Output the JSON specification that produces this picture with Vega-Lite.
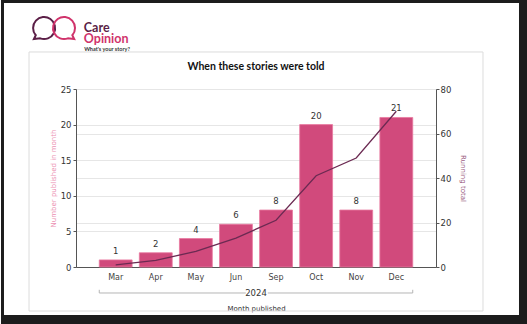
{
  "$schema": "https://vega.github.io/schema/vega-lite/v6.json",
  "background": "white",
  "autosize": "pad",
  "padding": 0,
  "width": 360,
  "height": 178,
  "datasets": {
    "months": [
      {"month": "Mar", "count": 1, "total": 1},
      {"month": "Apr", "count": 2, "total": 3},
      {"month": "May", "count": 4, "total": 7},
      {"month": "Jun", "count": 6, "total": 13},
      {"month": "Sep", "count": 8, "total": 21},
      {"month": "Oct", "count": 20, "total": 41},
      {"month": "Nov", "count": 8, "total": 49},
      {"month": "Dec", "count": 21, "total": 70}
    ],
    "group": [{"year": "2024"}]
  },
  "data": {"name": "months"},
  "encoding": {
    "x": {
      "field": "month",
      "type": "nominal",
      "sort": null,
      "scale": {"paddingInner": 0.18, "paddingOuter": 0.58},
      "axis": {
        "labelFont": "DejaVu Sans",
        "labelFontSize": 8,
        "labelColor": "#444444",
        "labelAngle": 0,
        "tickSize": 0,
        "labelPadding": 6,
        "domainColor": "#555555",
        "title": "Month published",
        "titleFont": "DejaVu Sans",
        "titleFontSize": 7,
        "titleFontWeight": "normal",
        "titleColor": "#333333",
        "titlePadding": 23
      }
    }
  },
  "layer": [
    {
      "encoding": {
        "y": {
          "field": "count",
          "type": "quantitative",
          "scale": {"domain": [0, 25]},
          "axis": {
            "values": [0, 5, 10, 15, 20, 25],
            "grid": true,
            "gridColor": "#e6e6e6",
            "domainColor": "#555555",
            "tickColor": "#555555",
            "tickSize": 3,
            "labelPadding": 2,
            "labelFont": "DejaVu Sans",
            "labelFontSize": 8.5,
            "labelColor": "#333333",
            "title": "Number published in month",
            "titleFont": "DejaVu Sans",
            "titleFontSize": 7,
            "titleFontWeight": "normal",
            "titleColor": "#ec8fb2",
            "titlePadding": 4
          }
        }
      },
      "layer": [
        {
          "mark": {"type": "bar", "color": "#d14a7c", "stroke": "#e8789f", "strokeWidth": 0.8}
        },
        {
          "mark": {"type": "text", "baseline": "bottom", "dy": -4, "font": "DejaVu Sans", "fontSize": 8.5, "color": "#333333"},
          "encoding": {
            "text": {"field": "count", "type": "quantitative"}
          }
        }
      ]
    },
    {
      "mark": {"type": "line", "color": "#6b2a52", "strokeWidth": 1.3},
      "encoding": {
        "y": {
          "field": "total",
          "type": "quantitative",
          "scale": {"domain": [0, 80]},
          "axis": {
            "orient": "right",
            "values": [0, 20, 40, 60, 80],
            "grid": true,
            "gridColor": "#e6e6e6",
            "domainColor": "#555555",
            "tickColor": "#555555",
            "tickSize": 3,
            "labelPadding": 1,
            "labelFont": "DejaVu Sans",
            "labelFontSize": 8.5,
            "labelColor": "#333333",
            "title": "Running total",
            "titleFont": "DejaVu Sans",
            "titleFontSize": 7,
            "titleFontWeight": "normal",
            "titleColor": "#9a5b80",
            "titlePadding": 9
          }
        }
      }
    },
    {
      "data": {"name": "group"},
      "layer": [
        {
          "mark": {"type": "rule", "color": "#b5b5b5", "strokeWidth": 1},
          "encoding": {
            "x": {"datum": "Mar", "bandPosition": 0},
            "x2": {"datum": "Jun", "bandPosition": 0.8},
            "y": {"datum": -3.65, "scale": {"domain": [0, 25]}, "axis": null}
          }
        },
        {
          "mark": {"type": "rule", "color": "#b5b5b5", "strokeWidth": 1},
          "encoding": {
            "x": {"datum": "Sep", "bandPosition": 0.25},
            "x2": {"datum": "Dec", "bandPosition": 1},
            "y": {"datum": -3.65, "scale": {"domain": [0, 25]}, "axis": null}
          }
        },
        {
          "mark": {"type": "rule", "color": "#b5b5b5", "strokeWidth": 1},
          "encoding": {
            "x": {"datum": "Mar", "bandPosition": 0},
            "y": {"datum": -3.65, "scale": {"domain": [0, 25]}, "axis": null},
            "y2": {"datum": -3.2}
          }
        },
        {
          "mark": {"type": "rule", "color": "#b5b5b5", "strokeWidth": 1},
          "encoding": {
            "x": {"datum": "Dec", "bandPosition": 1},
            "y": {"datum": -3.65, "scale": {"domain": [0, 25]}, "axis": null},
            "y2": {"datum": -3.2}
          }
        },
        {
          "mark": {"type": "text", "baseline": "middle", "align": "center", "font": "DejaVu Sans", "fontSize": 8.5, "color": "#333333"},
          "encoding": {
            "x": {"datum": "Jun", "bandPosition": 1.11},
            "y": {"datum": -3.7, "scale": {"domain": [0, 25]}, "axis": null},
            "text": {"field": "year", "type": "nominal"}
          }
        },
        {
          "mark": {"type": "text", "text": "When these stories were told", "baseline": "middle", "align": "center", "font": "Lato", "fontSize": 10.5, "fontWeight": "bold", "color": "#111111"},
          "encoding": {
            "x": {"datum": "Jun", "bandPosition": 1.11},
            "y": {"datum": 28.09, "scale": {"domain": [0, 25]}, "axis": null}
          }
        },
        {
          "mark": {"type": "rect", "fillOpacity": 0, "stroke": "#dcdcdc", "strokeWidth": 1},
          "encoding": {
            "x": {"datum": "Mar", "bandPosition": -2.137},
            "x2": {"datum": "Dec", "bandPosition": 3.137},
            "y": {"datum": 30.2, "scale": {"domain": [0, 25]}, "axis": null},
            "y2": {"datum": -6.18}
          }
        },
        {
          "mark": {"type": "point", "shape": "M -0.35 0.94 A 1 1 0 1 0 -0.75 0.66 L -0.92 1 Z", "filled": false, "color": "#5b1f47", "strokeWidth": 2, "size": 484, "opacity": 1},
          "encoding": {
            "x": {"datum": "Mar", "bandPosition": -1.68},
            "y": {"datum": 33.57, "scale": {"domain": [0, 25]}, "axis": null}
          }
        },
        {
          "mark": {"type": "point", "shape": "M 0.35 0.94 A 1 1 0 1 1 0.75 0.66 L 0.92 1 Z", "filled": false, "color": "#d0336b", "strokeWidth": 2, "size": 484, "opacity": 1},
          "encoding": {
            "x": {"datum": "Mar", "bandPosition": -1.07},
            "y": {"datum": 33.57, "scale": {"domain": [0, 25]}, "axis": null}
          }
        },
        {
          "mark": {"type": "text", "text": "Care", "align": "left", "baseline": "alphabetic", "font": "Lato", "fontSize": 12.5, "fontWeight": "bold", "color": "#5b1f47"},
          "encoding": {
            "x": {"datum": "Mar", "bandPosition": -0.47},
            "y": {"datum": 32.96, "scale": {"domain": [0, 25]}, "axis": null}
          }
        },
        {
          "mark": {"type": "text", "text": "Opinion", "align": "left", "baseline": "alphabetic", "font": "Lato", "fontSize": 12.5, "fontWeight": "bold", "color": "#d0336b"},
          "encoding": {
            "x": {"datum": "Mar", "bandPosition": -0.47},
            "y": {"datum": 31.53, "scale": {"domain": [0, 25]}, "axis": null}
          }
        },
        {
          "mark": {"type": "text", "text": "What's your story?", "align": "left", "baseline": "middle", "font": "Lato", "fontSize": 5.5, "fontWeight": "bold", "color": "#333333"},
          "encoding": {
            "x": {"datum": "Mar", "bandPosition": -0.46},
            "y": {"datum": 30.55, "scale": {"domain": [0, 25]}, "axis": null}
          }
        },
        {
          "mark": {"type": "rect", "color": "#1c1c1c"},
          "encoding": {
            "x": {"datum": "Mar", "bandPosition": -2.989},
            "x2": {"datum": "Dec", "bandPosition": 4.506},
            "y": {"datum": 37.5, "scale": {"domain": [0, 25]}, "axis": null},
            "y2": {"datum": 37.08}
          }
        },
        {
          "mark": {"type": "rect", "color": "#1c1c1c"},
          "encoding": {
            "x": {"datum": "Mar", "bandPosition": -2.989},
            "x2": {"datum": "Mar", "bandPosition": -2.898},
            "y": {"datum": 37.5, "scale": {"domain": [0, 25]}, "axis": null},
            "y2": {"datum": -8.006}
          }
        },
        {
          "mark": {"type": "rect", "color": "#1c1c1c"},
          "encoding": {
            "x": {"datum": "Dec", "bandPosition": 4.232},
            "x2": {"datum": "Dec", "bandPosition": 4.506},
            "y": {"datum": 37.5, "scale": {"domain": [0, 25]}, "axis": null},
            "y2": {"datum": -8.006}
          }
        },
        {
          "mark": {"type": "rect", "color": "#1c1c1c"},
          "encoding": {
            "x": {"datum": "Mar", "bandPosition": -2.989},
            "x2": {"datum": "Dec", "bandPosition": 4.506},
            "y": {"datum": -6.742, "scale": {"domain": [0, 25]}, "axis": null},
            "y2": {"datum": -8.006}
          }
        }
      ]
    }
  ],
  "resolve": {"scale": {"y": "independent"}}
}
